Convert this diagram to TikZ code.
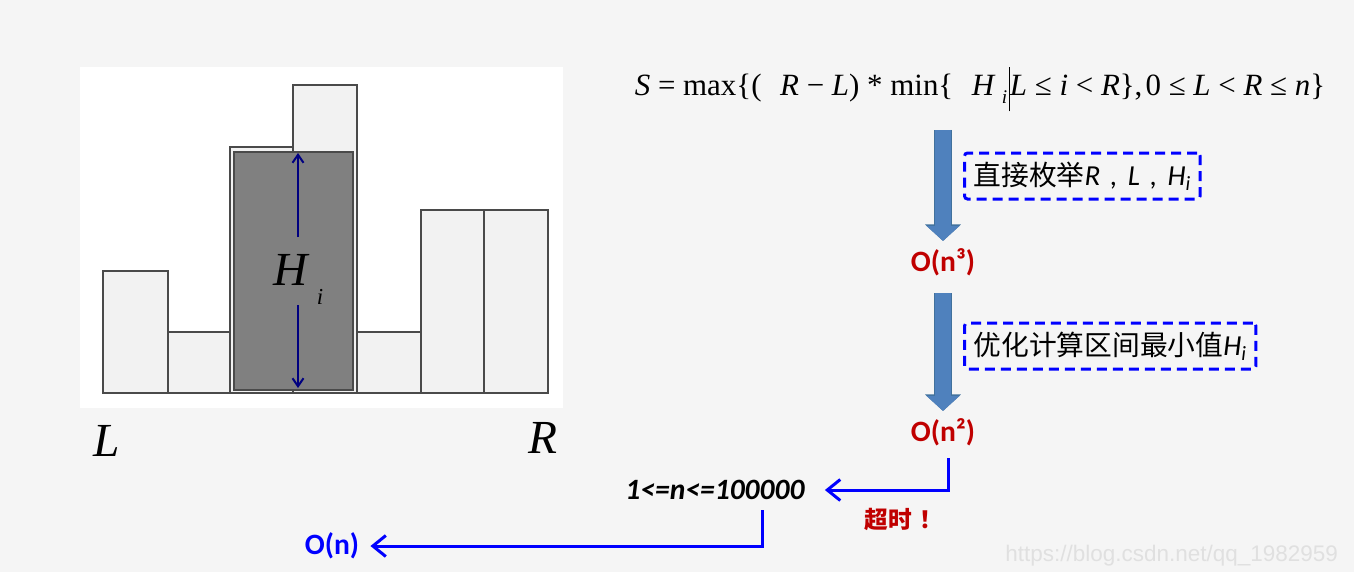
\documentclass[tikz,border=0pt]{standalone}
\usepackage{fontspec}
\setmainfont{Liberation Serif}
\newfontfamily\cjkfont{Noto Sans CJK SC}
\newfontfamily\calfont{Carlito}
\newfontfamily\webfont{Liberation Sans}
\usetikzlibrary{arrows.meta}
\definecolor{pagebg}{HTML}{F5F5F5}
\definecolor{barline}{HTML}{4A4A4A}
\definecolor{barfill}{HTML}{F2F2F2}
\definecolor{minfill}{HTML}{808080}
\definecolor{hiblue}{HTML}{000080}
\definecolor{steel}{HTML}{4F81BD}
\definecolor{steeldark}{HTML}{41719C}
\definecolor{cost}{HTML}{C00000}
\definecolor{pureblue}{HTML}{0000FF}

\begin{document}
\begin{tikzpicture}[
    x=0.02cm, y=-0.02cm,
    bar/.style={draw=barline, fill=barfill, line width=0.05cm},
    minbar/.style={draw=barline, fill=minfill, line width=0.03cm},
    hiarr/.style={-{Straight Barb[length=0.16cm,width=0.22cm]}, hiblue, line width=0.04cm},
    bigvar/.style={font=\fontsize{27pt}{30pt}\selectfont\itshape, inner sep=0pt},
    blockarr/.style={-{Triangle[width=0.64cm,length=0.3cm]}, steel, line width=0.32cm,
                     preaction={draw=steeldark, line width=0.36cm,
                                -{Triangle[width=0.7cm,length=0.33cm]}}},
    stepbox/.style={draw=pureblue, dashed, dash pattern=on 0.2cm off 0.12cm,
                    line width=0.06cm, rounded corners=0.06cm, anchor=west,
                    minimum height=0.92cm, inner xsep=0.18cm,
                    font=\cjkfont\fontsize{15.8pt}{17pt}\selectfont},
    cost/.style={text=cost, font=\calfont\bfseries\fontsize{16.8pt}{18pt}\selectfont, inner sep=0pt},
    bluearr/.style={-{Straight Barb[length=0.26cm,width=0.42cm]}, pureblue, line width=0.06cm},
]
\useasboundingbox (0,0) rectangle (1354,572);
\fill[pagebg] (0,0) rectangle (1354,572);

% ---- histogram ----
\fill[white] (80,67) rectangle (563,408);
\foreach \xa/\xb/\ytop in {103/168/271, 168/230/332, 230/293/147, 293/357/85,
                          357/421/332, 421/484/210, 484/548/210}
    \draw[bar] (\xa,393) rectangle (\xb,\ytop);
\draw[minbar] (234,390) rectangle (353,152);
\coordinate (htop) at (298,153);
\coordinate (hbot) at (298,388);
\coordinate (hup) at (298,237);
\coordinate (hdown) at (298,305);
\node[bigvar] (Hi) at (291,270) {H};
\node[font=\fontsize{13pt}{14pt}\selectfont\itshape, inner sep=0pt] (isub) at (320,297) {i};
\draw[hiarr] (hup) -- (htop);
\draw[hiarr] (hdown) -- (hbot);
\node[bigvar] (Lend) at (107,441) {L};
\node[bigvar] (Rend) at (543,438) {R};

% ---- formula ----
\node[font=\fontsize{17.6pt}{19pt}\selectfont, inner sep=0pt] (form) at (980,89)
    {{\itshape S} = max\{(\hspace{0.6em}{\itshape R} − {\itshape L}) * min\{\hspace{0.6em}{\itshape H}\hspace{0.25em}\raisebox{-0.5ex}{\fontsize{11pt}{12pt}\selectfont\itshape i}\hspace{0.05em}\rule[-0.5em]{0.6pt}{1.45em}{\itshape L} ≤ {\itshape i} < {\itshape R}\},\hspace{0.1em}0 ≤ {\itshape L} < {\itshape R} ≤ {\itshape n}\}};

% ---- complexity chain ----
\node[cost] (on3) at (943,262) {O(n³)};
\node[cost] (on2) at (943,432) {O(n²)};
\draw[blockarr, shorten <=0.36cm, shorten >=0.14cm] (form.south -| on3) -- (on3.north);
\draw[blockarr, shorten <=0.34cm, shorten >=0.14cm] (on3.south) -- (on2.north);
\node[stepbox] (enum) at (963,176) {直接枚举{\calfont\itshape\fontsize{16.5pt}{17pt}\selectfont R\hspace{0.35em},\hspace{0.35em}L\hspace{0.35em},\hspace{0.35em}H\textsubscript{i}}};
\node[stepbox] (optim) at (963,346) {优化计算区间最小值{\calfont\itshape\fontsize{16.5pt}{17pt}\selectfont H\textsubscript{i}}};

% ---- limit and O(n) ----
\node[font=\calfont\bfseries\itshape\fontsize{16.8pt}{18pt}\selectfont, inner sep=0pt] (limit) at (715,490) {1<=n<=100000};
\node[text=cost, font=\cjkfont\bfseries\fontsize{13.5pt}{15pt}\selectfont, inner sep=0pt] (tle) at (904,519) {超时\hspace{0.3em}！};
\node[cost, text=pureblue] (on) at (332,546) {O(n)};
\draw[bluearr, shorten <=0.24cm, shorten >=0.4cm] ([xshift=0.1cm]on2.south) |- (limit.east);
\draw[bluearr, shorten <=0.2cm, shorten >=0.22cm] ([xshift=0.94cm]limit.south) |- (on.east);

\node[font=\webfont\fontsize{12.8pt}{14pt}\selectfont, text=black!12, anchor=west, inner sep=0pt] (url) at (1005,556)
    {https://blog.csdn.net/qq\_1982959};
\end{tikzpicture}
\end{document}
